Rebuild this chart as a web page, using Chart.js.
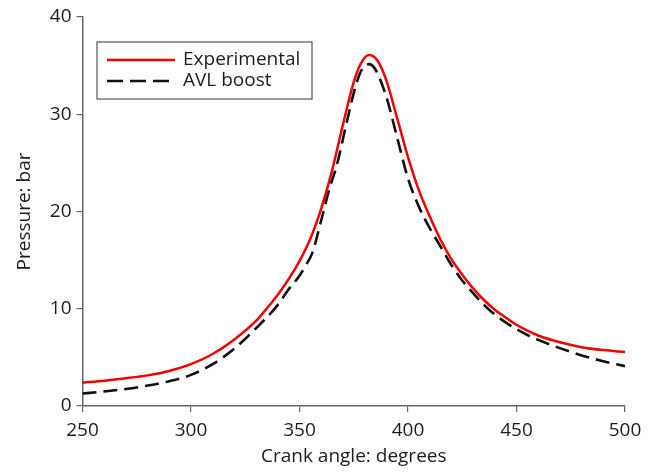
<!DOCTYPE html>
<html>
<head>
<meta charset="utf-8">
<script src="https://cdn.jsdelivr.net/npm/chart.js@4.4.1/dist/chart.umd.min.js"></script>
<style>
html,body{margin:0;padding:0;background:#fff;}
#wrap{width:652px;height:472px;}
</style>
</head>
<body>
<div id="wrap"><canvas id="chart" width="652" height="472"></canvas></div>
<script>
// crank angle (deg) and pressure (bar)
var expAngle = [250,260,270,280,290,300,310,320,330,335,340,345,350,355,360,365,370,375,378,382,386,390,395,400,405,410,415,420,425,430,435,440,445,450,455,460,470,480,490,500];
var expPress = [2.4,2.6,2.85,3.15,3.6,4.3,5.35,6.85,8.75,10.05,11.45,13.05,14.9,17.2,20.3,24.2,28.9,33.3,35.1,36.1,35.5,33.5,29.6,25.6,22.2,19.5,17.1,15.1,13.5,12.1,10.9,9.9,9.1,8.35,7.75,7.25,6.55,6.05,5.75,5.55];

var avlAngle = [250,260,270,280,290,300,310,320,330,340,345,350,353,356,360,364,367,372,376,379,382,385,390,395,400,405,410,415,420,425,430,435,440,445,450,455,460,470,480,490,500];
var avlPress = [1.28,1.5,1.75,2.1,2.55,3.2,4.3,5.9,8.0,10.4,12.0,13.4,14.5,15.8,19.1,22.5,24.6,29.4,33.0,34.7,35.15,34.6,31.8,27.6,23.4,20.5,18.3,16.4,14.5,12.9,11.6,10.4,9.4,8.6,7.9,7.3,6.8,5.95,5.2,4.6,4.1];

var xTicks = [250,300,350,400,450,500];
var yTicks = [0,10,20,30,40];

function pts(xs, ys){
  var out = [];
  for (var i = 0; i < xs.length; i++) out.push({x: xs[i], y: ys[i]});
  return out;
}

var FONT = "'Open Sans', 'Noto Sans', sans-serif";
var TXT = '#1c1c1c';
var AX = '#666';

// legend drawn inside the plot, top-left, with a box
var boxLegend = {
  id: 'boxLegend',
  afterDraw: function(chart){
    var ctx = chart.ctx;
    var x0 = 97, y0 = 42, w = 215, h = 57;
    ctx.save();
    ctx.fillStyle = '#fff';
    ctx.fillRect(x0, y0, w, h);
    ctx.strokeStyle = '#555';
    ctx.lineWidth = 1.2;
    ctx.strokeRect(x0, y0, w, h);
    chart.data.datasets.forEach(function(ds, i){
      var yy = y0 + 18 + i * 21;
      ctx.strokeStyle = ds.borderColor;
      ctx.lineWidth = ds.borderWidth;
      ctx.setLineDash(ds.borderDash ? [16, 7] : []);
      ctx.beginPath();
      ctx.moveTo(107, yy);
      ctx.lineTo(ds.borderDash ? 169 : 175, yy);
      ctx.stroke();
      ctx.setLineDash([]);
      ctx.fillStyle = TXT;
      ctx.font = '19px ' + FONT;
      ctx.textBaseline = 'middle';
      ctx.fillText(ds.label, 183, yy);
    });
    ctx.restore();
  }
};

new Chart(document.getElementById('chart'), {
  type: 'line',
  data: {
    datasets: [
      {
        label: 'Experimental',
        data: pts(expAngle, expPress),
        borderColor: '#f00000',
        borderWidth: 2.5,
        pointRadius: 0,
        cubicInterpolationMode: 'monotone',
        fill: false
      },
      {
        label: 'AVL boost',
        data: pts(avlAngle, avlPress),
        borderColor: '#111',
        borderWidth: 2.6,
        borderDash: [14, 7],
        pointRadius: 0,
        cubicInterpolationMode: 'monotone',
        fill: false
      }
    ]
  },
  options: {
    responsive: false,
    animation: false,
    layout: { padding: { left: 9, top: 17, right: 27, bottom: 0 } },
    plugins: { legend: { display: false }, tooltip: { enabled: false } },
    scales: {
      x: {
        type: 'linear',
        min: 250, max: 500,
        afterBuildTicks: function(s){ s.ticks = xTicks.map(function(v){ return {value: v}; }); },
        afterFit: function(s){ s.height = 66; },
        grid: { display: true, drawOnChartArea: false, drawTicks: true, tickLength: 6, color: AX, lineWidth: 1.2 },
        border: { display: true, color: AX, width: 1.5 },
        ticks: { color: TXT, font: { family: FONT, size: 19 }, padding: 7, maxRotation: 0 },
        title: { display: true, text: 'Crank angle: degrees', color: TXT, font: { family: FONT, size: 19 }, padding: { top: 2 } }
      },
      y: {
        min: 0, max: 40,
        afterBuildTicks: function(s){ s.ticks = yTicks.map(function(v){ return {value: v}; }); },
        afterFit: function(s){ s.width = 73.5; },
        grid: { display: true, drawOnChartArea: false, drawTicks: true, tickLength: 6, color: AX, lineWidth: 1.2 },
        border: { display: true, color: AX, width: 1.5 },
        ticks: { color: TXT, font: { family: FONT, size: 19 }, padding: 5 },
        title: { display: true, text: 'Pressure: bar', color: TXT, font: { family: FONT, size: 19 }, padding: { bottom: 6 } }
      }
    }
  },
  plugins: [boxLegend]
});
</script>
</body>
</html>
